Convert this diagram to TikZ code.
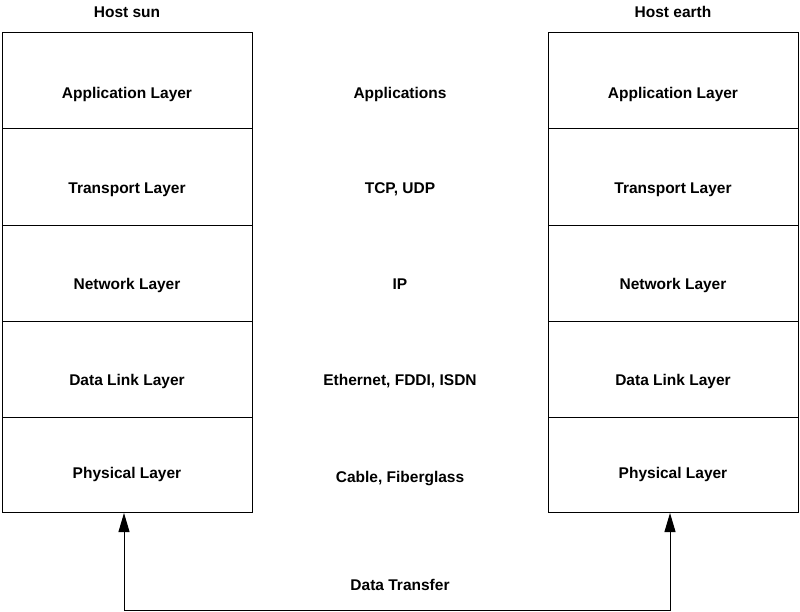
\documentclass[tikz,border=0pt]{standalone}
\usepackage{fontspec}
\setmainfont{Liberation Sans}
\usetikzlibrary{arrows.meta}
\begin{document}
\begin{tikzpicture}[x=1pt,y=-1pt,
  layer/.style={draw, line width=1pt, minimum width=250pt, inner sep=0pt, anchor=north},
  txt/.style={font=\fontsize{15.5}{18}\selectfont\bfseries, anchor=base, inner sep=0pt},
  conn/.style={line width=1pt, {Triangle[length=19pt,width=11pt]}-{Triangle[length=19pt,width=11pt]}}]
\useasboundingbox (0,0) rectangle (800,612);
% left stack
\node[layer, minimum height=96pt] (s1) at (127,32) {};
\node[layer, minimum height=97pt] (s2) at (127,128) {};
\node[layer, minimum height=96pt] (s3) at (127,225) {};
\node[layer, minimum height=96pt] (s4) at (127,321) {};
\node[layer, minimum height=95pt] (s5) at (127,417) {};
% right stack
\node[layer, minimum height=96pt] (e1) at (673,32) {};
\node[layer, minimum height=97pt] (e2) at (673,128) {};
\node[layer, minimum height=96pt] (e3) at (673,225) {};
\node[layer, minimum height=96pt] (e4) at (673,321) {};
\node[layer, minimum height=95pt] (e5) at (673,417) {};
% titles
\node[txt] (hs) at (127,17.5) {Host sun};
\node[txt] (he) at (673,17.5) {Host earth};
% left texts
\node[txt] (ts1) at (127,98.5) {Application Layer};
\node[txt] (ts2) at (127,193.5) {Transport Layer};
\node[txt] (ts3) at (127,289.5) {Network Layer};
\node[txt] (ts4) at (127,385.5) {Data Link Layer};
\node[txt] (ts5) at (127,478.5) {Physical Layer};
% right texts
\node[txt] (te1) at (673,98.5) {Application Layer};
\node[txt] (te2) at (673,193.5) {Transport Layer};
\node[txt] (te3) at (673,289.5) {Network Layer};
\node[txt] (te4) at (673,385.5) {Data Link Layer};
\node[txt] (te5) at (673,478.5) {Physical Layer};
% middle texts
\node[txt] (m1) at (400,98.5) {Applications};
\node[txt] (m2) at (400,193.5) {TCP, UDP};
\node[txt] (m3) at (400,289.5) {IP};
\node[txt] (m4) at (400,385.5) {Ethernet, FDDI, ISDN};
\node[txt] (m5) at (400,482.5) {Cable, Fiberglass};
\node[txt] (dt) at (400,590.5) {Data Transfer};
% connector
\coordinate (sunfoot) at (124,610);
\coordinate (earthfoot) at (670,610);
\draw[conn] (s5.south -| sunfoot) -- (sunfoot) -- (earthfoot) -- (e5.south -| earthfoot);
\end{tikzpicture}
\end{document}
